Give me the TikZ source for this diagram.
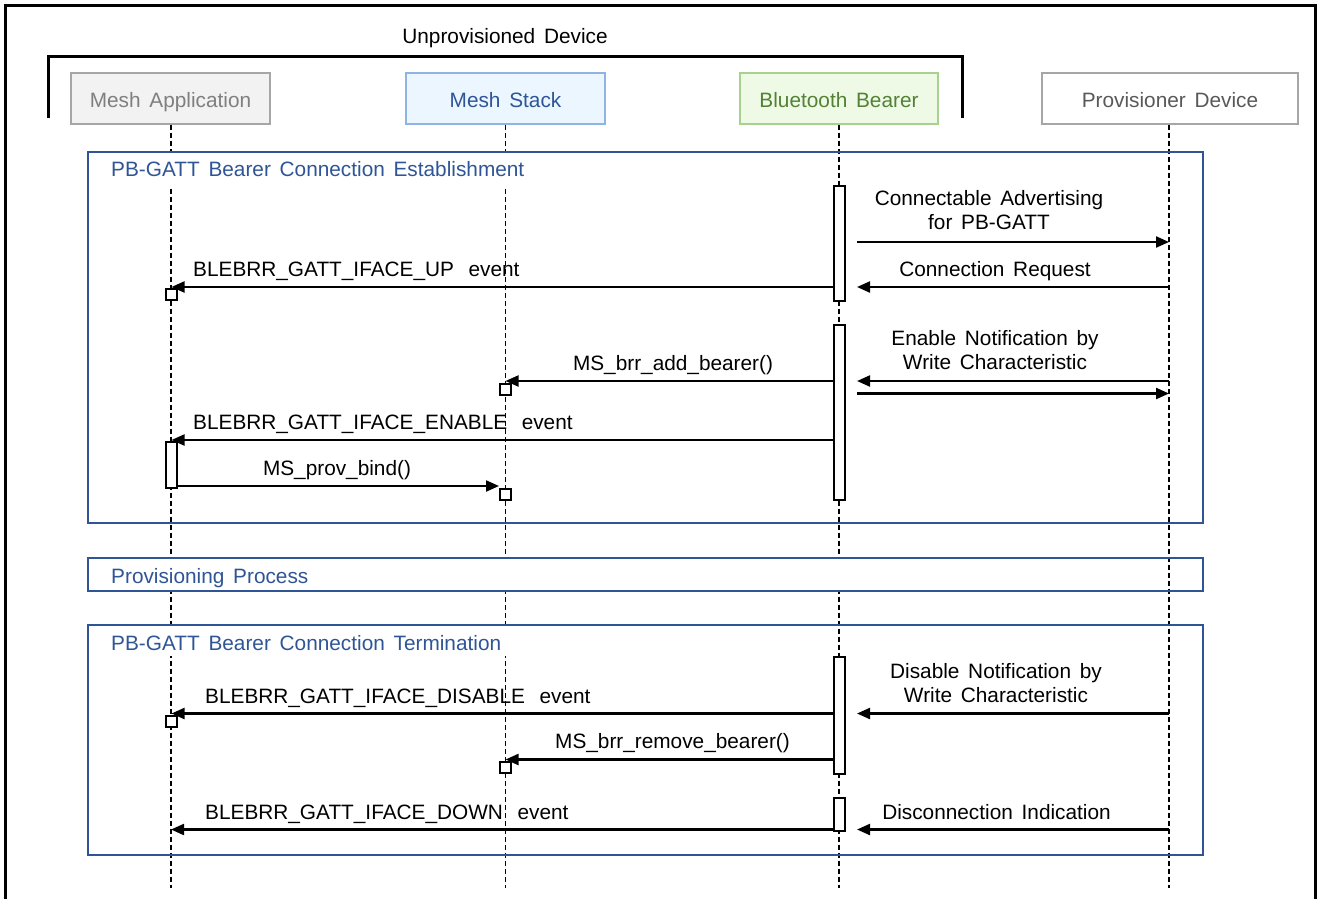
\documentclass[tikz,border=0pt]{standalone}
\usepackage{fontspec}
\setmainfont{Liberation Sans}
\usetikzlibrary{arrows.meta}
\definecolor{grpblue}{HTML}{2F5597}
\definecolor{appfill}{HTML}{F2F2F2}
\definecolor{appdraw}{HTML}{A6A6A6}
\definecolor{apptext}{HTML}{7F7F7F}
\definecolor{stkfill}{HTML}{EBF6FF}
\definecolor{stkdraw}{HTML}{8FB4E3}
\definecolor{stktext}{HTML}{2F5597}
\definecolor{btfill}{HTML}{EEFAE6}
\definecolor{btdraw}{HTML}{A9D18E}
\definecolor{bttext}{HTML}{538135}
\definecolor{pvtext}{HTML}{595959}
\newcommand\diagfont{\fontsize{20.8}{24}\selectfont\spaceskip 0.42em plus 0.1em\relax}
\begin{document}
\begin{tikzpicture}[x=1pt,y=-1pt,
  every node/.style={font=\diagfont, inner sep=0pt},
  part/.style={draw, line width=1.8pt, minimum height=51pt, text height=18pt, text depth=0pt},
  life/.style={line width=1.8pt, dash pattern=on 5pt off 3pt},
  actbar/.style={draw=black, fill=white, line width=2pt, minimum width=11pt},
  sqbox/.style={draw=black, fill=white, line width=2pt, minimum width=11pt, minimum height=11pt},
  msg/.style={line width=2.2pt, -{Triangle[length=13pt,width=11pt]}},
  grp/.style={draw=grpblue, line width=2.2pt},
  glabel/.style={text=grpblue, anchor=base west},
  lbl/.style={anchor=base},
  lblw/.style={anchor=base west},
  lbl2/.style={anchor=south, align=center},
]
\useasboundingbox (0,0) rectangle (1322,898);
% outer frame
\draw[line width=3pt] (5,900) -- (5,5) -- (1315,5) -- (1315,900);
% unprovisioned device bracket
\draw[line width=3pt] (48,118) -- (48,56.5) -- (962,56.5) -- (962,118);
\node[lbl] (ud) at (505,43) {Unprovisioned Device};

% participants
\node[part, draw=appdraw, fill=appfill, text=apptext, minimum width=199.5pt] (MA) at (170.5,98.5) {Mesh Application};
\node[part, draw=stkdraw, fill=stkfill, text=stktext, minimum width=199pt] (MS) at (505.5,98.5) {Mesh Stack};
\node[part, draw=btdraw, fill=btfill, text=bttext, minimum width=198pt] (BB) at (839,98.5) {Bluetooth Bearer};
\node[part, draw=appdraw, fill=white, text=pvtext, minimum width=256pt] (PD) at (1170,98.5) {Provisioner Device};

% lifeline ends
\coordinate (eA) at (171,888);
\coordinate (eS) at (505.5,888);
\coordinate (eB) at (839,888);
\coordinate (eP) at (1169,888);
\draw[life] (MA.south -| eA) -- (eA);
\draw[life] (MS.south -| eS) -- (eS);
\draw[life] (BB.south -| eB) -- (eB);

% covers for group labels
\fill[white] (89,153) rectangle (530,186.5);
\fill[white] (89,558) rectangle (1150,590);
\fill[white] (89,626) rectangle (515,656);
\draw[life] (PD.south -| eP) -- (eP);

% group frames
\draw[grp] (88,152) rectangle (1203,523);
\draw[grp] (88,558) rectangle (1203,591);
\draw[grp] (88,625) rectangle (1203,855);
\node[glabel] (g1) at (111,176.5) {PB-GATT Bearer Connection Establishment};
\node[glabel] (g2) at (111,583.5) {Provisioning Process};
\node[glabel] (g3) at (111,650.5) {PB-GATT Bearer Connection Termination};

% activation bars
\node[actbar, minimum height=115pt] (b1) at (839,243) {};
\node[actbar, minimum height=174.5pt] (b2) at (839,412.25) {};
\node[actbar, minimum height=117pt] (b3) at (839,715.5) {};
\node[actbar, minimum height=33pt] (b4) at (839,814.5) {};
\node[actbar, minimum height=46pt] (a1) at (171.5,464.5) {};
% small boxes
\node[sqbox] (s1) at (171.5,294.5) {};
\node[sqbox] (s2) at (505.5,389) {};
\node[sqbox] (s3) at (505.5,494) {};
\node[sqbox] (s4) at (171.5,721) {};
\node[sqbox] (s5) at (505.5,767.5) {};

% message end points
\coordinate (r1) at (857,242);
\coordinate (p1) at (1169,242);
\coordinate (r2) at (857,287);
\coordinate (p2) at (1169,287);
\coordinate (r3) at (857,381);
\coordinate (p3) at (1169,381);
\coordinate (r4) at (857,393.5);
\coordinate (p4) at (1169,393.5);
\coordinate (r5) at (857,713.5);
\coordinate (p5) at (1169,713.5);
\coordinate (r6) at (857,829.5);
\coordinate (p6) at (1169,829.5);
\coordinate (t1) at (171.5,287);
\coordinate (t2) at (505.5,381);
\coordinate (t3) at (171.5,440);
\coordinate (t4) at (171.5,713.5);
\coordinate (t5) at (505.5,759.5);
\coordinate (t6) at (171,829.5);
\coordinate (t7) at (300,486);

% messages
\draw[msg] (r1) -- (p1);
\node[lbl2] (m1) at (989,230) {Connectable Advertising\\for PB-GATT};
\draw[msg] (p2) -- (r2);
\node[lbl] (m2) at (995,276.5) {Connection Request};
\draw[msg] (b1.west |- t1) -- (t1);
\node[lblw] (m3) at (193,276.5) {BLEBRR\_GATT\_IFACE\_UP\hspace{0.7em}event};
\draw[msg] (p3) -- (r3);
\draw[msg] (r4) -- (p4);
\node[lbl2] (m4) at (995,369.5) {Enable Notification by\\Write Characteristic};
\draw[msg] (b2.west |- t2) -- (t2);
\node[lbl] (m5) at (673,370.5) {MS\_brr\_add\_bearer()};
\draw[msg] (b2.west |- t3) -- (t3);
\node[lblw] (m6) at (193,429.5) {BLEBRR\_GATT\_IFACE\_ENABLE\hspace{0.7em}event};
\draw[msg] (a1.east |- t7) -- (s3.west |- t7);
\node[lbl] (m7) at (337,475.5) {MS\_prov\_bind()};

\draw[msg] (p5) -- (r5);
\node[lbl2] (m8) at (996,702.5) {Disable Notification by\\Write Characteristic};
\draw[msg] (b3.west |- t4) -- (t4);
\node[lblw] (m9) at (205,703.5) {BLEBRR\_GATT\_IFACE\_DISABLE\hspace{0.7em}event};
\draw[msg] (b3.west |- t5) -- (t5);
\node[lbl] (m10) at (672.5,748.5) {MS\_brr\_remove\_bearer()};
\draw[msg] (p6) -- (r6);
\node[lbl] (m11) at (996.5,819.5) {Disconnection Indication};
\draw[msg] (b4.west |- t6) -- (t6);
\node[lblw] (m12) at (205,819.5) {BLEBRR\_GATT\_IFACE\_DOWN\hspace{0.7em}event};
\end{tikzpicture}
\end{document}
